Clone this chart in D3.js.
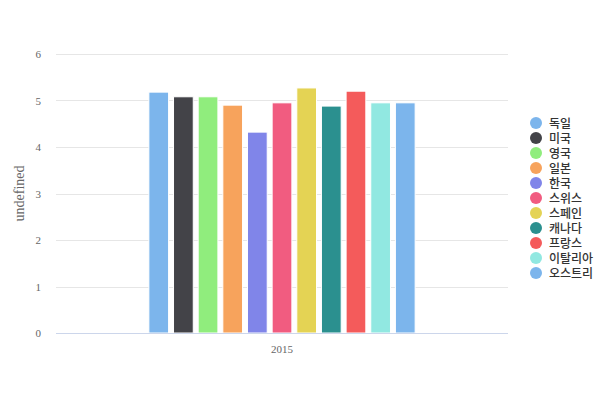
<!DOCTYPE html>
<html><head><meta charset="utf-8">
<script src="https://cdn.jsdelivr.net/npm/d3@7"></script>
<style>body{margin:0;background:#fff}svg{display:block}</style>
</head><body>
<svg id="c" width="600" height="400"></svg>
<script>
const categories = ["2015"];
const seriesNames = ["독일","미국","영국","일본","한국","스위스","스페인","캐나다","프랑스","이탈리아","오스트리"];
const seriesValues = [5.18, 5.08, 5.08, 4.90, 4.32, 4.95, 5.27, 4.88, 5.20, 4.95, 4.95];
const colors = ["#7cb5ec","#434348","#90ed7d","#f7a35c","#8085e9","#f15c80","#e4d354","#2b908f","#f45b5b","#91e8e1","#7cb5ec"];
const yTicks = [0,1,2,3,4,5,6];
const yTitle = "undefined";

(function () {
const svg = d3.select("#c");
const pLeft = 56, pRight = 508, pTop = 54, pBottom = 333;
const x0 = d3.scaleBand().domain(categories).range([pLeft, pRight]).padding(0);
const y = d3.scaleLinear().domain([0, 6]).range([pBottom, pTop]);
const serif = "'Liberation Serif','Times New Roman',serif";

// grid
svg.append("g").selectAll("line").data(yTicks.filter(d => d > 0)).join("line")
  .attr("x1", pLeft).attr("x2", pRight)
  .attr("y1", d => Math.round(y(d)) + 0.5).attr("y2", d => Math.round(y(d)) + 0.5)
  .attr("stroke", "#e6e6e6").attr("stroke-width", 1);

// y labels
svg.append("g").selectAll("text").data(yTicks).join("text")
  .attr("x", 41).attr("y", d => y(d) + 4)
  .attr("text-anchor", "end").attr("font-family", serif).attr("font-size", 11)
  .attr("fill", "#666").text(d => d);

// y title
svg.append("text").attr("transform", `translate(24,${(pTop + pBottom) / 2}) rotate(-90)`)
  .attr("text-anchor", "middle").attr("font-family", serif).attr("font-size", 14)
  .attr("fill", "#666").text(yTitle);

// bars
const data = categories.flatMap(c => seriesNames.map((s, i) => ({ c, s, i, v: seriesValues[i] })));
const x1 = d3.scaleBand().domain(seriesNames.map((s, i) => i))
  .range([x0(categories[0]) + 0.2 * x0.bandwidth(), x0(categories[0]) + 0.8 * x0.bandwidth()])
  .paddingInner(0.2).paddingOuter(0.1);
svg.append("g").selectAll("rect").data(data).join("rect")
  .attr("x", d => x1(d.i)).attr("width", x1.bandwidth())
  .attr("y", d => y(d.v)).attr("height", d => y(0) - y(d.v))
  .attr("fill", d => colors[d.i]).attr("stroke", "#fff").attr("stroke-width", 1);

// x axis line
svg.append("line").attr("x1", pLeft).attr("x2", pRight)
  .attr("y1", pBottom + 0.5).attr("y2", pBottom + 0.5).attr("stroke", "#ccd6eb");

// x labels
svg.append("g").selectAll("text").data(categories).join("text")
  .attr("x", d => x0(d) + x0.bandwidth() / 2).attr("y", 353)
  .attr("text-anchor", "middle").attr("font-family", serif).attr("font-size", 11)
  .attr("fill", "#666").text(d => d);

// legend
const lg = svg.append("g").selectAll("g").data(seriesNames).join("g")
  .attr("transform", (d, i) => `translate(536,${123 + i * 15})`);
lg.append("circle").attr("r", 6).attr("fill", (d, i) => colors[i]);
lg.append("text").attr("x", 13).attr("y", 4.5)
  .attr("font-family", "'Noto Sans CJK KR','Noto Sans',sans-serif").attr("font-size", 12)
  .attr("font-weight", "500").attr("fill", "#333").text(d => d);
})();
</script>
</body></html>
